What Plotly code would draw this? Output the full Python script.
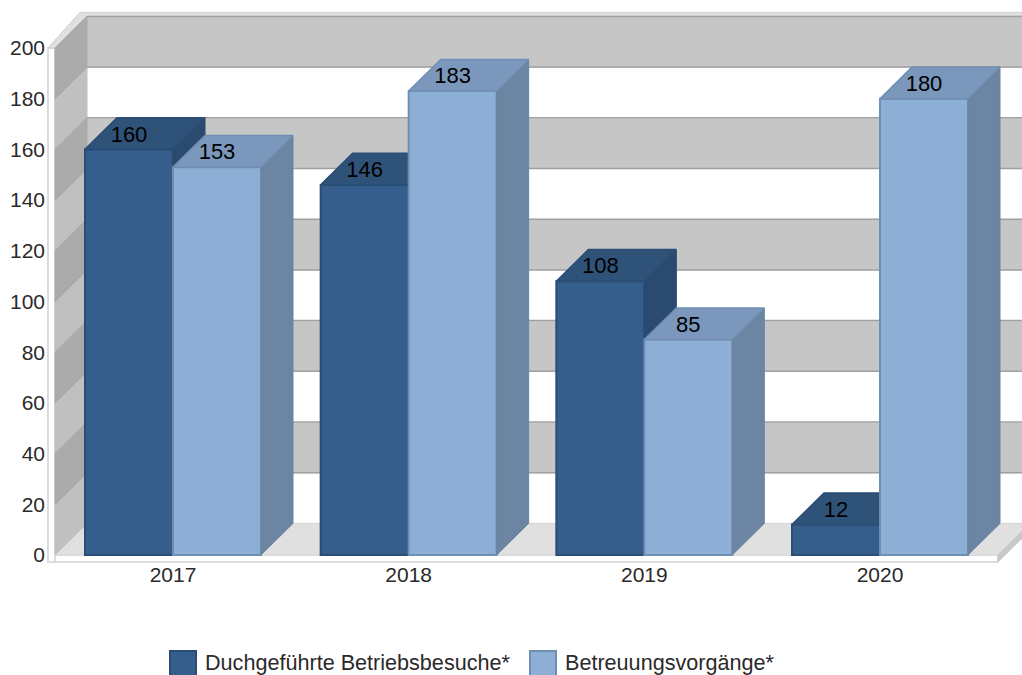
import plotly.graph_objects as go

years = ["2017", "2018", "2019", "2020"]
besuche = [160, 146, 108, 12]
vorgaenge = [153, 183, 85, 180]
name_besuche = "Duchgeführte Betriebsbesuche*"
name_vorgaenge = "Betreuungsvorgänge*"
y_ticks = list(range(0, 201, 20))

W, H = 1022, 675
PX_CAT, PX_VAL = 235.67, 2.535      # pixels per category / per value unit
LEFT, RIGHT, TOP, BOTTOM = 46, 1022, 0, 563   # plot area in pixels
X0_PX, Y0_PX = 173, 555             # pixel position of category 0 / value 0
DX, DY = 32 / PX_CAT, 31.6 / PX_VAL # 3-D depth
BAR_W = 88 / PX_CAT
FONT = "Liberation Sans"

xrange_ = [(LEFT - X0_PX) / PX_CAT, (RIGHT - X0_PX) / PX_CAT]
yrange_ = [(Y0_PX - BOTTOM) / PX_VAL, (Y0_PX - TOP) / PX_VAL]
WALL_X = (55 - X0_PX) / PX_CAT      # front-left corner of the wall
END_X = (998 - X0_PX) / PX_CAT      # front-right end of the floor
SLAB_X = (48 - X0_PX) / PX_CAT
SLAB_Y = -7 / PX_VAL
LABEL_SHIFT = 2.5 / PX_VAL
pos = list(range(len(years)))


def poly(points, fill, line=None, width=1):
    path = "M" + " L".join(f"{x:.4f},{y:.4f}" for x, y in points) + " Z"
    return dict(type="path", path=path, xref="x", yref="y", layer="below",
                fillcolor=fill, line=dict(color=line or fill, width=width))


far = END_X + DX
shapes = []
# floor and slabs
shapes.append(poly([(WALL_X, 0), (WALL_X + DX, DY), (far, DY), (END_X, 0)], "#e0e0e0"))
shapes.append(poly([(SLAB_X, 0), (END_X, 0), (END_X, SLAB_Y), (SLAB_X, SLAB_Y)], "#ffffff", "#dcdcdc", 2))
shapes.append(poly([(END_X, 0), (far, DY), (far, DY + SLAB_Y), (END_X, SLAB_Y)], "#c8c8c8"))
shapes.append(poly([(SLAB_X, 200), (WALL_X, 200), (WALL_X, SLAB_Y), (SLAB_X, SLAB_Y)], "#ffffff", "#dcdcdc", 2))
# top bevel
shapes.append(poly([(SLAB_X, 200), (WALL_X, 200), (WALL_X + DX, 200 + DY), (far, 200 + DY),
                    (far, 200 + DY + 1.6), (SLAB_X + DX, 200 + DY + 1.6)], "#e0e0e0", "#cfcfcf", 1))
# back wall bands and left wall bands
for i in range(len(y_ticks) - 1):
    lo, hi = y_ticks[i], y_ticks[i + 1]
    gray = i % 2 == 1
    shapes.append(poly([(WALL_X + DX, lo + DY), (far, lo + DY), (far, hi + DY), (WALL_X + DX, hi + DY)],
                       "#c6c6c6" if gray else "#ffffff"))
    shapes.append(poly([(WALL_X, lo), (WALL_X + DX, lo + DY), (WALL_X + DX, hi + DY), (WALL_X, hi)],
                       "#ababab" if gray else "#c0c0c0"))
for v in y_ticks[1:]:
    shapes.append(dict(type="line", xref="x", yref="y", layer="below", x0=WALL_X, y0=v, x1=WALL_X + DX, y1=v + DY,
                       line=dict(color="#a6a6a6", width=1)))
    shapes.append(dict(type="line", xref="x", yref="y", layer="below", x0=WALL_X + DX, y0=v + DY, x1=far, y1=v + DY,
                       line=dict(color="#a0a0a0", width=1.5)))
shapes.append(dict(type="line", xref="x", yref="y", layer="below", x0=WALL_X + DX, y0=DY, x1=far, y1=DY,
                   line=dict(color="#d0d0d0", width=1)))

fig = go.Figure()


def add_series(values, offset, front, top, side, edge, name, xa, ya):
    fig.add_trace(go.Bar(x=pos, y=values, width=BAR_W, offset=offset, name=name, xaxis=xa, yaxis=ya,
                         marker=dict(color=front, line=dict(color=edge, width=2)), showlegend=False,
                         hoverinfo="x+y"))
    for p, v in zip(pos, values):
        l, r = p + offset, p + offset + BAR_W
        fig.add_trace(go.Scatter(x=[r, r + DX, r + DX, r, r], y=[0, DY, v + DY, v, 0], mode="lines", fill="toself",
                                 fillcolor=side, line=dict(color=side, width=1), xaxis=xa, yaxis=ya,
                                 showlegend=False, hoverinfo="skip"))
        fig.add_trace(go.Scatter(x=[l, r, r + DX, l + DX, l], y=[v, v, v + DY, v + DY, v], mode="lines", fill="toself",
                                 fillcolor=top, line=dict(color=edge, width=1.5), xaxis=xa, yaxis=ya,
                                 showlegend=False, hoverinfo="skip"))


add_series(besuche, -BAR_W, "#355e8c", "#2f5278", "#2a4a70", "#2a4c75", name_besuche, "x", "y")
add_series(vorgaenge, 0, "#8eafd5", "#7b98bc", "#6b85a2", "#6f8fb2", name_vorgaenge, "x2", "y2")

# value labels
for values, offset in ((besuche, -BAR_W), (vorgaenge, 0)):
    fig.add_trace(go.Scatter(x=[p + offset + BAR_W / 2 for p in pos], y=[v + DY / 2 - LABEL_SHIFT for v in values],
                             text=[str(v) for v in values], mode="text", textposition="middle center",
                             textfont=dict(family=FONT, size=22, color="#000000"), xaxis="x2", yaxis="y2",
                             showlegend=False, hoverinfo="skip", cliponaxis=False))

# legend drawn at its reference size
plot_w, plot_h = RIGHT - LEFT, BOTTOM - TOP
def px(x): return (x - LEFT) / plot_w
def py(y): return (BOTTOM - y) / plot_h

legend = [(170, "#355e8c", "#2a4c75", name_besuche), (530, "#8eafd5", "#6f8fb2", name_vorgaenge)]
annotations = []
for x, fill, edge, label in legend:
    shapes.append(dict(type="rect", xref="paper", yref="paper", x0=px(x), x1=px(x + 26), y0=py(651), y1=py(677),
                       fillcolor=fill, line=dict(color=edge, width=2)))
    annotations.append(dict(xref="paper", yref="paper", x=px(x + 32.5), y=py(662), text=label, showarrow=False,
                            xanchor="left", yanchor="middle", font=dict(family=FONT, size=21.6, color="#2a2a2a")))

axis_font = dict(family=FONT, size=21, color="#2a2a2a")
fig.update_layout(
    width=W, height=H, autosize=False, paper_bgcolor="#ffffff", plot_bgcolor="#ffffff",
    margin=dict(l=LEFT, r=W - RIGHT, t=TOP, b=H - BOTTOM, pad=0),
    showlegend=False, shapes=shapes, annotations=annotations,
    xaxis=dict(range=xrange_, tickmode="array", tickvals=pos, ticktext=years, showgrid=False, zeroline=False,
               showline=False, ticks="", tickfont=axis_font, fixedrange=True,
               anchor="free", position=3 / (BOTTOM - TOP)),
    yaxis=dict(range=yrange_, tickmode="array", tickvals=y_ticks, showgrid=False, zeroline=False,
               showline=False, ticks="", tickfont=axis_font, fixedrange=True),
    xaxis2=dict(range=xrange_, overlaying="x", visible=False, fixedrange=True),
    yaxis2=dict(range=yrange_, overlaying="y", visible=False, fixedrange=True),
)
fig.write_html("out.html", config={"displayModeBar": False},
               post_script="document.body.style.margin='0';document.documentElement.style.overflow='hidden';")
